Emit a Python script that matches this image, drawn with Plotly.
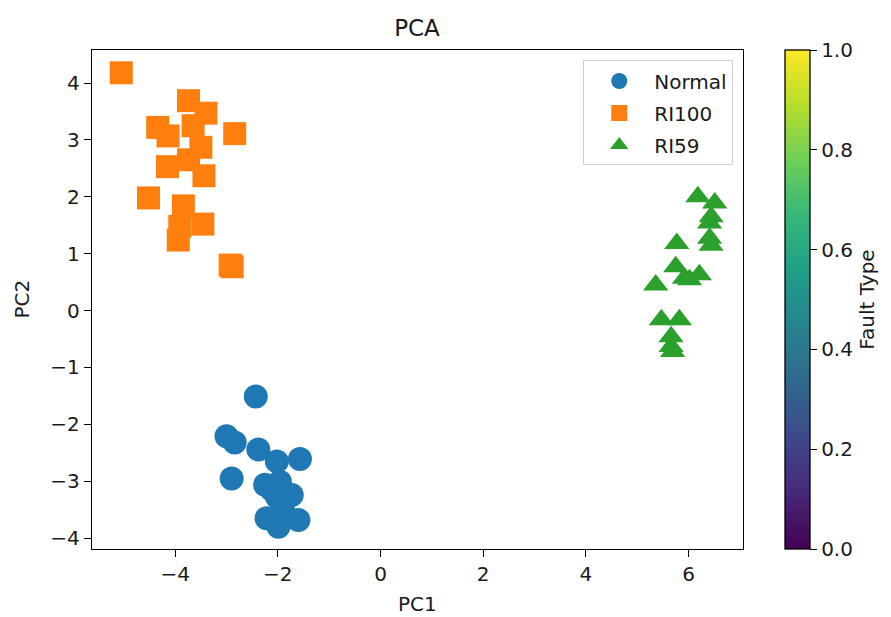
import plotly.graph_objects as go

# ---- data ----
normal_x = [-2.43, -3.00, -2.84, -2.38, -2.02, -1.57, -2.90, -2.25, -1.96, -1.73,
            -2.02, -2.22, -1.99, -1.60, -2.12, -1.90]
normal_y = [-1.51, -2.21, -2.32, -2.44, -2.65, -2.61, -2.95, -3.06, -3.01, -3.24,
            -3.27, -3.65, -3.80, -3.68, -3.15, -3.50]

ri100_x = [-5.05, -3.74, -3.40, -4.34, -4.14, -3.65, -2.84, -3.50, -3.74, -4.15,
           -3.44, -4.52, -3.84, -3.46, -3.91, -3.94, -2.93, -2.89]
ri100_y = [4.18, 3.69, 3.47, 3.22, 3.07, 3.25, 3.11, 2.87, 2.65, 2.53,
           2.37, 1.98, 1.84, 1.52, 1.48, 1.24, 0.80, 0.77]

ri59_x = [6.18, 6.51, 6.44, 6.41, 6.44, 5.77, 5.75, 5.92, 6.21, 5.36,
          5.47, 5.82, 5.66, 5.66, 5.69, 6.02, 6.41]
ri59_y = [2.00, 1.89, 1.65, 1.27, 1.15, 1.18, 0.77, 0.57, 0.63, 0.45,
          -0.16, -0.16, -0.46, -0.63, -0.72, 0.54, 1.54]

names = ["Normal", "RI100", "RI59"]
colors = ["#1f77b4", "#ff7f0e", "#2ca02c"]
symbols = ["circle", "square", "triangle-up"]
sizes = [24, 23, 22]

x_ticks = [-4, -2, 0, 2, 4, 6]
y_ticks = [-4, -3, -2, -1, 0, 1, 2, 3, 4]
cbar_ticks = [0.0, 0.2, 0.4, 0.6, 0.8, 1.0]

FONT = "DejaVu Sans"
TXT = "#1a1a1a"

fig = go.Figure()
series = [(normal_x, normal_y), (ri100_x, ri100_y), (ri59_x, ri59_y)]
for i, (xs, ys) in enumerate(series):
    fig.add_trace(go.Scatter(
        x=xs, y=ys, mode="markers", name=names[i], legendgroup=names[i],
        marker=dict(color=colors[i], symbol=symbols[i], size=sizes[i],
                    line=dict(width=0)),
    ))

# colorbar-only trace
fig.add_trace(go.Scatter(
    x=[None], y=[None], mode="markers", showlegend=False, hoverinfo="skip",
    marker=dict(color=[0], colorscale="Viridis", cmin=0, cmax=1, showscale=True,
                colorbar=dict(
                    x=1.064, xanchor="left", xpad=0, ypad=0,
                    y=0.5, yanchor="middle", len=1, lenmode="fraction",
                    thickness=25, outlinewidth=1.3, outlinecolor="black",
                    ticks="outside", ticklen=7, tickwidth=1.3, tickcolor="black",
                    tickvals=cbar_ticks, tickformat=".1f",
                    tickfont=dict(family=FONT, size=20, color=TXT),
                    title=dict(text="Fault Type", side="right",
                               font=dict(family=FONT, size=20, color=TXT)),
                )),
))

axis_common = dict(
    showline=True, mirror=True, linecolor="black", linewidth=1.3,
    ticks="outside", ticklen=7, tickwidth=1.3, tickcolor="black",
    showgrid=False, zeroline=False,
    tickfont=dict(family=FONT, size=20, color=TXT),
)

# the page body adds an 8px margin, so the figure is sized/offset to compensate
fig.update_layout(
    width=883, height=609,
    margin=dict(l=84, r=148, t=42, b=68, autoexpand=False),
    plot_bgcolor="white", paper_bgcolor="white",
    title=dict(text="PCA", x=(417 - 8) / 883, xanchor="center",
               y=1 - 20 / 609, yanchor="middle", yref="container",
               font=dict(family=FONT, size=23, color=TXT)),
    xaxis=dict(range=[-5.62, 7.06], tickvals=x_ticks,
               ticktext=[str(v).replace("-", "\u2212") for v in x_ticks],
               **axis_common),
    yaxis=dict(range=[-4.19, 4.58], tickvals=y_ticks,
               ticktext=[str(v).replace("-", "\u2212") for v in y_ticks],
               **axis_common),
    legend=dict(x=0.985, xanchor="right", y=0.979, yanchor="top",
                bgcolor="rgba(255,255,255,0.85)", bordercolor="#d0d0d0",
                borderwidth=1, tracegroupgap=3, itemwidth=60,
                font=dict(family=FONT, size=20, color=TXT)),
    showlegend=True,
    annotations=[
        dict(text="PC1", xref="paper", yref="paper", x=0.5, y=-0.110,
             xanchor="center", yanchor="middle", showarrow=False,
             font=dict(family=FONT, size=20, color=TXT)),
        dict(text="PC2", xref="paper", yref="paper", x=-0.109, y=0.5,
             xanchor="center", yanchor="middle", showarrow=False, textangle=-90,
             font=dict(family=FONT, size=20, color=TXT)),
    ],
)

fig.write_html("out.html")
